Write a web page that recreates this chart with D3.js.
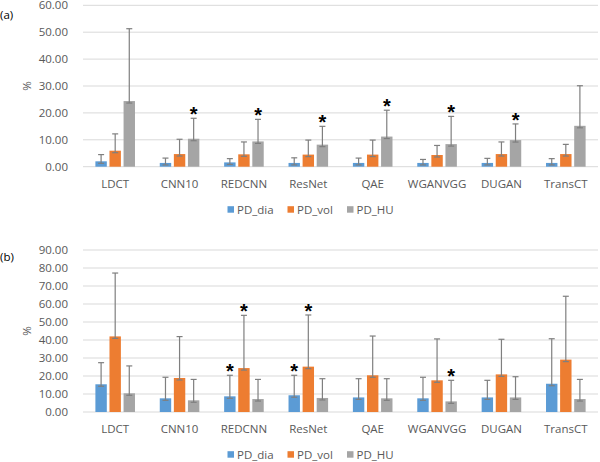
<!DOCTYPE html>
<html><head><meta charset="utf-8">
<script src="https://cdn.jsdelivr.net/npm/d3@7"></script>
<style>
body{margin:0;background:#fff;}
svg{display:block;font-family:"Open Sans",sans-serif;}
</style></head>
<body><svg id="c" width="600" height="462"></svg>
<script>
const categories = ["LDCT","CNN10","REDCNN","ResNet","QAE","WGANVGG","DUGAN","TransCT"];
const seriesNames = ["PD_dia","PD_vol","PD_HU"];
const colors = ["#5B9BD5","#ED7D31","#A5A5A5"];

// Panel (a)
const aDia = [2.0, 1.4, 1.6, 1.4, 1.4, 1.4, 1.4, 1.4];
const aDiaErr = [2.5, 1.8, 1.4, 1.9, 1.8, 1.3, 1.7, 1.6];
const aVol = [5.95, 4.7, 4.6, 4.5, 4.5, 4.35, 4.7, 4.7];
const aVolErr = [6.25, 5.5, 4.6, 5.4, 5.4, 3.55, 4.5, 3.6];
const aHU = [24.4, 10.4, 9.4, 8.2, 11.2, 8.4, 9.9, 15.2];
const aHUErr = [26.9, 7.6, 8.2, 6.8, 9.8, 10.3, 6.0, 14.9];
const aTicks = [0,10,20,30,40,50,60];
const aStars = [["CNN10","PD_HU"],["REDCNN","PD_HU"],["ResNet","PD_HU"],["QAE","PD_HU"],["WGANVGG","PD_HU"],["DUGAN","PD_HU"]];

// Panel (b)
const bDia = [15.4, 7.6, 8.7, 9.3, 8.1, 7.6, 8.1, 15.7];
const bDiaErr = [12.0, 11.7, 11.7, 11.1, 10.4, 11.7, 9.5, 25.0];
const bVol = [42.0, 18.9, 24.4, 25.2, 20.4, 17.6, 20.9, 29.1];
const bVolErr = [35.2, 23.0, 29.3, 28.7, 21.8, 23.0, 19.5, 35.2];
const bHU = [10.4, 6.5, 7.2, 7.8, 7.6, 5.9, 8.1, 7.2];
const bHUErr = [15.2, 11.6, 10.9, 10.7, 10.9, 11.7, 11.5, 10.9];
const bTicks = [0,10,20,30,40,50,60,70,80,90];
const bStars = [["REDCNN","PD_dia"],["ResNet","PD_dia"],["REDCNN","PD_vol"],["ResNet","PD_vol"],["WGANVGG","PD_HU"]];

const svg = d3.select("#c");
const textCol = "#595959";

function panel(cfg){
  const g = svg.append("g");
  const x0 = d3.scaleBand().domain(categories).range([83, 598]);
  const x1 = d3.scaleBand().domain(seriesNames).range([0, x0.bandwidth()]).paddingInner(0.19).paddingOuter(0.88);
  const y = d3.scaleLinear().domain([0, d3.max(cfg.ticks)]).range([cfg.y0, cfg.yTop]);

  // gridlines
  g.append("g").selectAll("line").data(cfg.ticks).join("line")
    .attr("x1", 83).attr("x2", 598)
    .attr("y1", d=>y(d)).attr("y2", d=>y(d))
    .attr("stroke", "#D9D9D9").attr("stroke-width", 1);

  // y tick labels
  g.append("g").selectAll("text").data(cfg.ticks).join("text")
    .attr("x", 68).attr("y", d=>y(d)).attr("dy","0.36em")
    .attr("text-anchor","end").attr("font-size", 11.5).attr("fill", textCol)
    .text(d=>d3.format(".2f")(d));

  // % label
  g.append("text").attr("transform", `translate(31,${(cfg.y0+cfg.yTop)/2}) rotate(-90)`)
    .attr("text-anchor","middle").attr("font-size", 11.5).attr("fill", textCol).text("%");

  // panel label
  g.append("text").attr("x", 0).attr("y", cfg.labelY).attr("font-size", 11.5).attr("fill", "#000").text(cfg.label);

  const rows = [];
  cfg.series.forEach((s, si) => {
    s.vals.forEach((v, ci) => rows.push({cat: categories[ci], ser: seriesNames[si], v, e: s.errs[ci], color: colors[si]}));
  });

  // bars
  g.append("g").selectAll("rect").data(rows).join("rect")
    .attr("x", d=>x0(d.cat)+x1(d.ser)).attr("width", x1.bandwidth())
    .attr("y", d=>y(d.v)).attr("height", d=>y(0)-y(d.v))
    .attr("fill", d=>d.color);

  // error bars
  const eb = g.append("g").attr("stroke", "#7F7F7F").attr("stroke-width", 1.2);
  const cw = 3;
  rows.forEach(d => {
    const cx = x0(d.cat)+x1(d.ser)+x1.bandwidth()/2;
    const yt = y(d.v + d.e), yb = y(d.v) + 2;
    eb.append("line").attr("x1", cx).attr("x2", cx).attr("y1", yt).attr("y2", yb);
    eb.append("line").attr("x1", cx-cw).attr("x2", cx+cw).attr("y1", yt).attr("y2", yt);
    eb.append("line").attr("x1", cx-cw).attr("x2", cx+cw).attr("y1", yb).attr("y2", yb);
  });

  // stars
  g.append("g").selectAll("text").data(cfg.stars).join("text")
    .attr("x", d=>x0(d[0])+x1(d[1])+x1.bandwidth()/2)
    .attr("y", d=>{ const r = rows.find(q=>q.cat===d[0]&&q.ser===d[1]); return y(r.v + r.e) + 3; })
    .attr("text-anchor","middle").attr("font-family","Liberation Sans, sans-serif")
    .attr("font-weight","bold").attr("font-size", 20).attr("fill","#000").text("*");

  // category labels
  g.append("g").selectAll("text").data(categories).join("text")
    .attr("x", d=>x0(d)+x0.bandwidth()/2).attr("y", cfg.catY)
    .attr("text-anchor","middle").attr("font-size", 11.5).attr("fill", textCol).text(d=>d);

  // legend
  const lg = g.append("g");
  const lx = [227.5, 287.5, 347];
  seriesNames.forEach((n, i) => {
    lg.append("rect").attr("x", lx[i]).attr("y", cfg.legY-3.3).attr("width", 6.5).attr("height", 6.5).attr("fill", colors[i]);
    lg.append("text").attr("x", lx[i]+9.5).attr("y", cfg.legY).attr("dy","0.36em")
      .attr("font-size", 11.5).attr("fill", textCol).text(n);
  });
}

panel({
  ticks: aTicks, y0: 166.7, yTop: 5.3, label: "(a)", labelY: 19, catY: 187.5, legY: 209.5,
  series: [{vals:aDia, errs:aDiaErr},{vals:aVol, errs:aVolErr},{vals:aHU, errs:aHUErr}],
  stars: aStars
});
panel({
  ticks: bTicks, y0: 412, yTop: 250, label: "(b)", labelY: 261, catY: 432.7, legY: 454.5,
  series: [{vals:bDia, errs:bDiaErr},{vals:bVol, errs:bVolErr},{vals:bHU, errs:bHUErr}],
  stars: bStars
});
</script></body></html>
